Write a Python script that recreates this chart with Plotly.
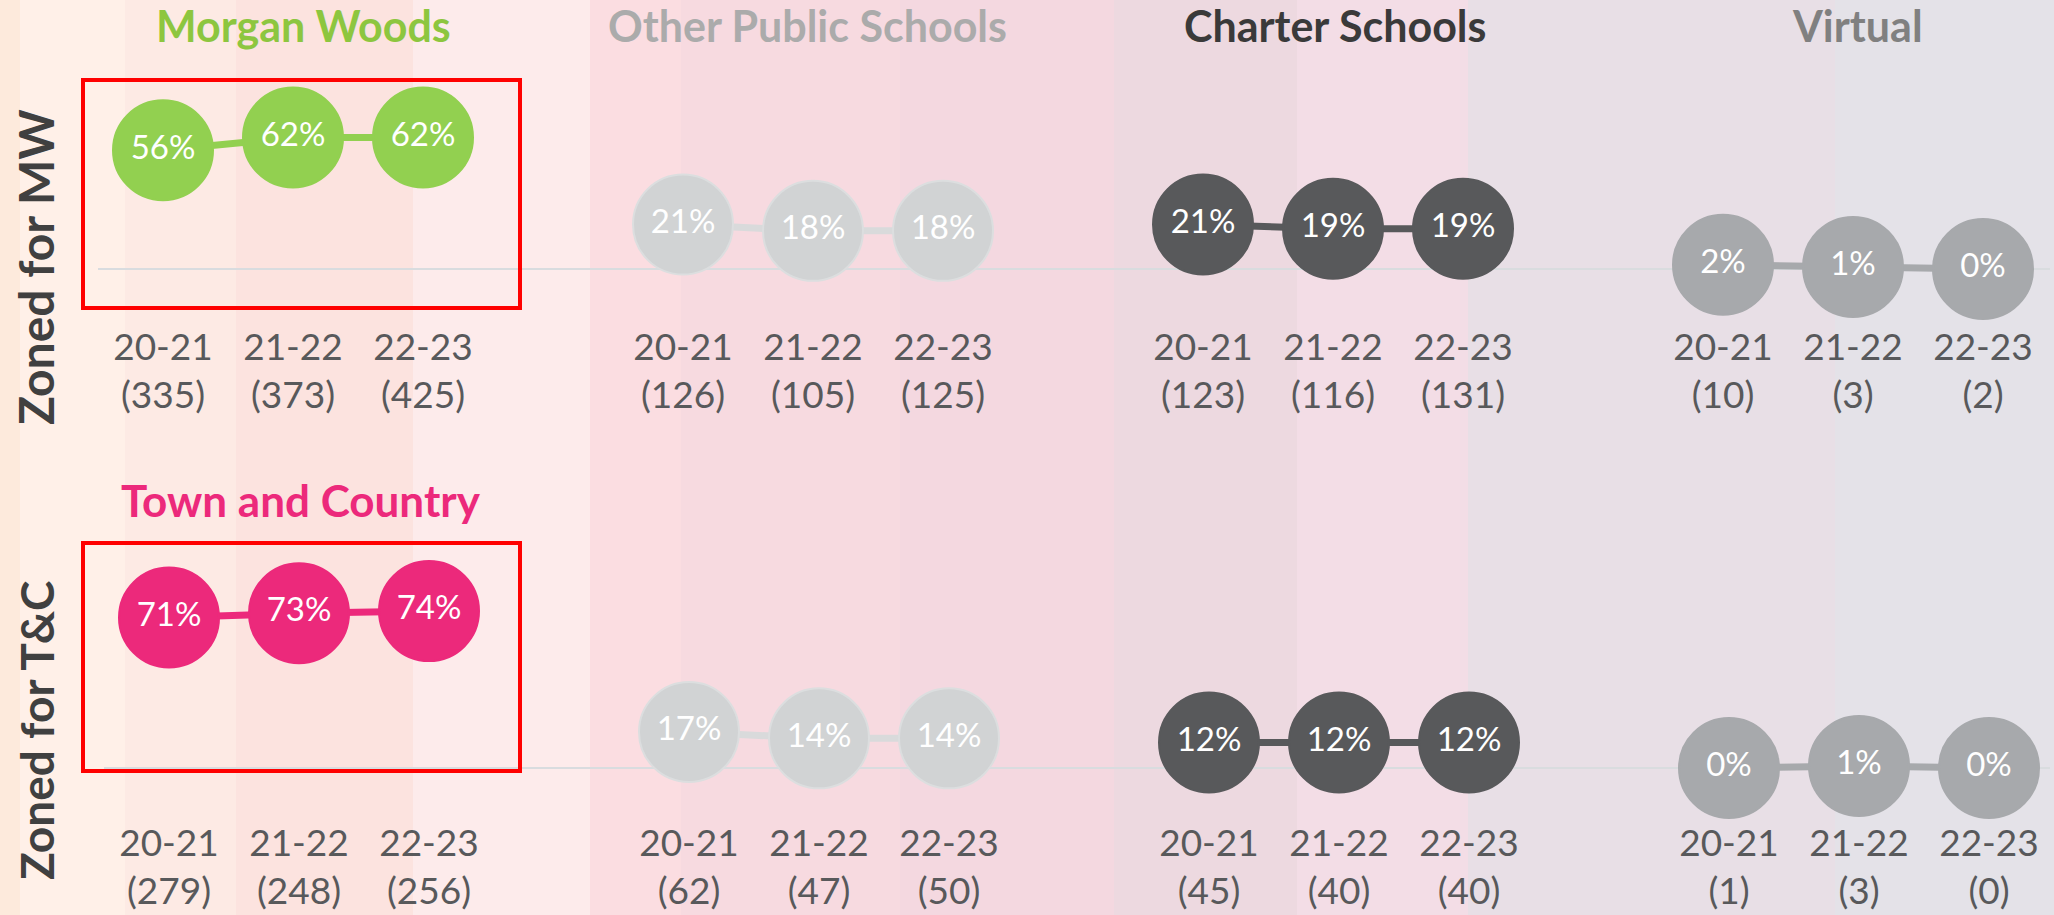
import plotly.graph_objects as go

# ---------------- data ----------------
years = ["20-21", "21-22", "22-23"]
groups = ["Morgan Woods", "Other Public Schools", "Charter Schools", "Virtual"]

# Row 1: students zoned for Morgan Woods
mw_pct = {
    "Morgan Woods": [56, 62, 62],
    "Other Public Schools": [21, 18, 18],
    "Charter Schools": [21, 19, 19],
    "Virtual": [2, 1, 0],
}
mw_n = {
    "Morgan Woods": [335, 373, 425],
    "Other Public Schools": [126, 105, 125],
    "Charter Schools": [123, 116, 131],
    "Virtual": [10, 3, 2],
}

# Row 2: students zoned for Town and Country
tc_pct = {
    "Morgan Woods": [71, 73, 74],
    "Other Public Schools": [17, 14, 14],
    "Charter Schools": [12, 12, 12],
    "Virtual": [0, 1, 0],
}
tc_n = {
    "Morgan Woods": [279, 248, 256],
    "Other Public Schools": [62, 47, 50],
    "Charter Schools": [45, 40, 40],
    "Virtual": [1, 3, 0],
}

row_labels = ["Zoned for MW", "Zoned for T&C"]
home_titles = ["Morgan Woods", "Town and Country"]

# ---------------- styling ----------------
W, H = 2054, 915
FONT = "Lato"
home_colors = ["#92D050", "#EC297B"]
group_colors = {
    "Other Public Schools": "#D1D3D4",
    "Charter Schools": "#58595B",
    "Virtual": "#A7A9AC",
}
title_colors = {
    "Morgan Woods": "#8DC63F",
    "Other Public Schools": "#ABABAB",
    "Charter Schools": "#3A3A3A",
    "Virtual": "#808080",
}

def px_x(p):
    return p / W

def px_y(p):
    return 1 - p / H

fig = go.Figure()

rows = [
    dict(pct=mw_pct, n=mw_n, xa="x", ya="y", dom_px=(60, 322), base=269, xdom=(98, 2050), x0px=163),
    dict(pct=tc_pct, n=tc_n, xa="x2", ya="y2", dom_px=(540, 818), base=768, xdom=(104, 2050), x0px=169),
]
SCALE = 2.12   # px per percentage point
STEP = 130.0   # px per x slot

for r, row in enumerate(rows):
    tickvals, ticktext = [], []
    for g, grp in enumerate(groups):
        xs = [g * 4 + j for j in range(len(years))]
        ys = row["pct"][grp]
        color = home_colors[r] if g == 0 else group_colors[grp]
        line_color = color if grp != "Other Public Schools" else "#D9DADB"
        border = "#DCDEDF" if grp == "Other Public Schools" else color
        fig.add_trace(go.Scatter(
            x=xs, y=ys, xaxis=row["xa"], yaxis=row["ya"],
            mode="lines+markers+text",
            line=dict(color=line_color, width=7),
            marker=dict(size=100, color=color, line=dict(color=border, width=2)),
            text=[f"{v}%" for v in ys],
            textposition="middle center",
            textfont=dict(family=FONT, size=33, color="white", weight=400),
            cliponaxis=False, showlegend=False, hoverinfo="skip",
        ))
        for j, yr in enumerate(years):
            tickvals.append(g * 4 + j)
            ticktext.append(f"{yr}<br>({row['n'][grp][j]})")

    top_px, bot_px = row["dom_px"]
    yr_top = (row["base"] - top_px) / SCALE
    yr_bot = -(bot_px - row["base"]) / SCALE
    xl, xr = row["xdom"]
    x_left = (xl - row["x0px"]) / STEP
    x_right = (xr - row["x0px"]) / STEP
    xkey = "xaxis" if r == 0 else "xaxis2"
    ykey = "yaxis" if r == 0 else "yaxis2"
    fig.layout[xkey] = dict(
        domain=[px_x(xl), px_x(xr)], range=[x_left, x_right], anchor=row["ya"],
        tickvals=tickvals, ticktext=ticktext, showgrid=False, zeroline=False,
        showline=False, ticks="", fixedrange=True,
        tickfont=dict(family=FONT, size=37, color="#58595B"),
    )
    fig.layout[ykey] = dict(
        domain=[px_y(bot_px), px_y(top_px)], range=[yr_bot, yr_top], anchor=row["xa"],
        showgrid=False, showticklabels=False, ticks="", showline=False,
        zeroline=True, zerolinecolor="#D9DCDF", zerolinewidth=2, fixedrange=True,
    )

# ---------------- background bands ----------------
band_edges = [0, 20, 125, 236, 413, 590, 681, 900, 1114, 1297, 1468, 1835, 2054]
band_colors = ["#FDEADC", "#FFF0E8", "#FDEAE4", "#FCE3DF", "#FDEBEB", "#FBDDE1",
               "#F7DAE0", "#F4D8E0", "#EDD9E0", "#F3DDE6", "#E8DFE6", "#E4E2E8"]
shapes = []
for i, c in enumerate(band_colors):
    shapes.append(dict(type="rect", xref="paper", yref="paper",
                       x0=px_x(band_edges[i]), x1=px_x(band_edges[i + 1]), y0=0, y1=1,
                       fillcolor=c, line=dict(width=0), layer="below"))

# red highlight boxes around the home-school series
for (x0, y0, x1, y1) in [(83, 80, 520, 308), (83, 543, 520, 771)]:
    shapes.append(dict(type="rect", xref="paper", yref="paper",
                       x0=px_x(x0), x1=px_x(x1), y0=px_y(y1), y1=px_y(y0),
                       fillcolor="rgba(0,0,0,0)", line=dict(color="#FF0000", width=4),
                       layer="above"))

# ---------------- annotations ----------------
annotations = []
title_x = {"Morgan Woods": 303, "Other Public Schools": 807,
           "Charter Schools": 1335, "Virtual": 1857}
for grp in groups:
    annotations.append(dict(
        text=f"<b>{grp}</b>", x=px_x(title_x[grp]), y=px_y(25), xref="paper", yref="paper",
        xanchor="center", yanchor="middle", showarrow=False,
        font=dict(family=FONT, size=43, color=title_colors[grp]),
    ))
annotations.append(dict(
    text=f"<b>{home_titles[1]}</b>", x=px_x(301), y=px_y(500), xref="paper", yref="paper",
    xanchor="center", yanchor="middle", showarrow=False,
    font=dict(family=FONT, size=44, color=home_colors[1]),
))
for lab, yc, fs in zip(row_labels, [267, 731], [48, 46]):
    annotations.append(dict(
        text=f"<b>{lab}</b>", x=px_x(36), y=px_y(yc), xref="paper", yref="paper",
        xanchor="center", yanchor="middle", showarrow=False, textangle=-90,
        font=dict(family=FONT, size=fs, color="#404040"),
    ))

fig.update_layout(
    width=W, height=H, margin=dict(l=0, r=0, t=0, b=0, pad=0),
    paper_bgcolor="#F6E4E6", plot_bgcolor="rgba(0,0,0,0)",
    shapes=shapes, annotations=annotations,
    font=dict(family=FONT),
)

fig.write_html(
    "out.html",
    config={"displayModeBar": False},
    post_script="document.body.style.margin='0';document.body.style.overflow='hidden';",
)
